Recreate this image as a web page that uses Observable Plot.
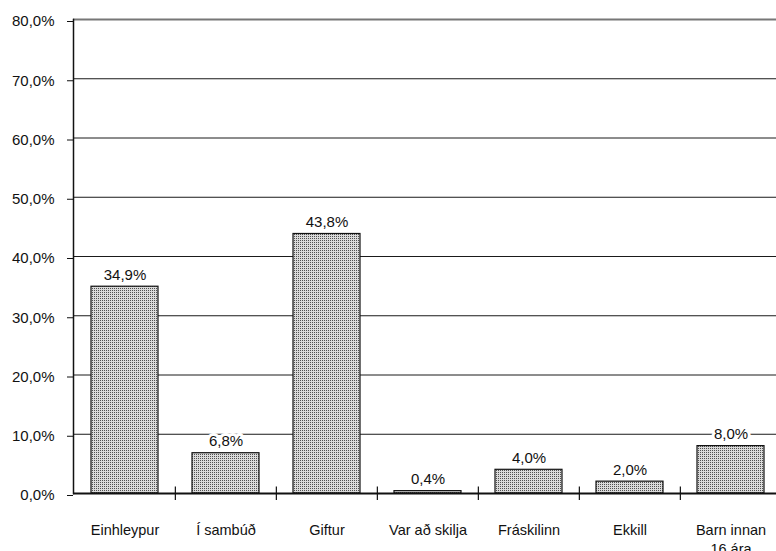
<!DOCTYPE html>
<html><head><meta charset="utf-8">
<script src="https://cdn.jsdelivr.net/npm/d3@7"></script>
<script src="https://cdn.jsdelivr.net/npm/@observablehq/plot@0.6"></script>
<style>body{margin:0;background:#fff} svg{display:block}</style>
</head><body><div id="chart"></div>
<script>
const categories = ["Einhleypur", "Í sambúð", "Giftur", "Var að skilja", "Fráskilinn", "Ekkill", "Barn innan\n16 ára"];
const values = [34.9, 6.8, 43.8, 0.4, 4.0, 2.0, 8.0];
const yTicks = [0, 10, 20, 30, 40, 50, 60, 70, 80];

const data = categories.map((c, i) => ({cat: c, val: values[i]}));
const fmt = d => d.toFixed(1).replace(".", ",") + "%";
const xRange = [73, 782];
const halfStep = (xRange[1] - xRange[0]) / categories.length / 2;

const chart = Plot.plot({
  width: 776,
  height: 551,
  marginLeft: 73,
  marginRight: 0,
  marginTop: 19,
  marginBottom: 58,
  style: {fontFamily: "'Liberation Sans', Arial, sans-serif", background: "#fff", color: "#111"},
  x: {type: "band", domain: categories, range: xRange, padding: 0, axis: null, label: null},
  y: {domain: [0, 80], range: [493, 19], axis: null, label: null},
  marks: [
    Plot.ruleY(yTicks.filter(d => d > 0 && d < 80), {stroke: "#1a1a1a", strokeWidth: 1}),
    Plot.ruleY([80], {stroke: "#777", strokeWidth: 2}),
    Plot.barY(data, {x: "cat", y: "val", fill: "url(#stipple)", stroke: "#111", strokeWidth: 1.2, insetLeft: 17, insetRight: 17}),
    Plot.text(data, {x: "cat", y: "val", text: d => fmt(d.val), dy: -7, lineAnchor: "bottom", fontSize: 15, fill: "#111", stroke: "white", strokeWidth: 6}),
    Plot.frame({anchor: "left", stroke: "#111", strokeWidth: 1.5}),
    Plot.ruleY([0], {stroke: "#111", strokeWidth: 2}),
    Plot.ruleX(categories.slice(1), {x: d => d, y1: -1.2, y2: 1.1, dx: -halfStep, stroke: "#111", strokeWidth: 1.2}),
    Plot.axisX({tickSize: 0, tickPadding: 28, fontSize: 14.5, lineHeight: 1.3, label: null}),
    Plot.axisY({ticks: yTicks, tickFormat: fmt, tickSize: 6, tickPadding: 13, fontSize: 15, dy: 2, label: null})
  ]
});

chart.insertAdjacentHTML("afterbegin",
  `<defs><pattern id="stipple" width="2" height="2" patternUnits="userSpaceOnUse">
     <rect width="2" height="2" fill="#dadada"/>
     <rect width="1" height="1" fill="#505050"/>
   </pattern></defs>`);

document.getElementById("chart").appendChild(chart);
</script>
</body></html>
